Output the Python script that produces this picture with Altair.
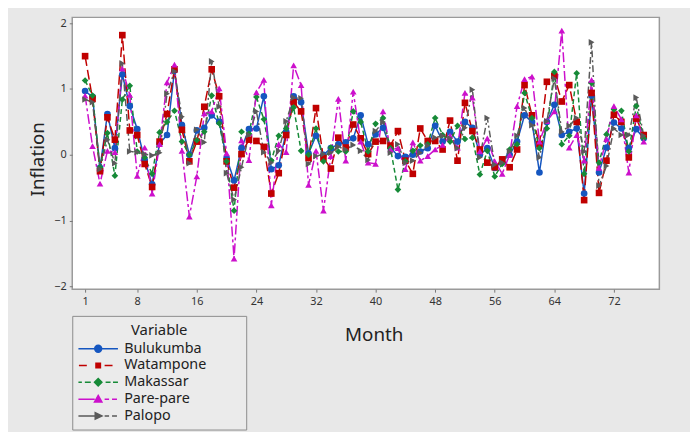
import math
import altair as alt
import pandas as pd

months = list(range(1, 77))

bulukumba = [0.97, 0.88, -0.20, 0.62, 0.10, 1.22, 0.74, 0.39, -0.08, -0.45,
             0.17, 0.30, 1.28, 0.45, 0.00, 0.37, 0.41, 0.60, 0.50, -0.05,
             -0.39, 0.10, 0.39, 0.40, 0.89, -0.22, -0.16, 0.35, 0.89, 0.80,
             0.02, 0.29, 0.00, 0.10, 0.16, 0.19, 0.25, 0.60, 0.16, 0.31,
             0.41, 0.11, -0.02, -0.03, 0.00, 0.05, 0.10, 0.44, 0.20, 0.35,
             0.20, 0.50, 0.41, 0.00, 0.10, -0.20, -0.10, 0.00, 0.20, 0.60,
             0.50, -0.27, 0.50, 0.76, 0.30, 0.35, 0.40, -0.59, 0.90, -0.27,
             0.11, 0.49, 0.40, 0.10, 0.39, 0.25]
watampone = [1.50, 0.85, -0.25, 0.57, 0.23, 1.82, 0.37, 0.30, -0.14, -0.49,
             0.20, 0.62, 1.30, 0.38, -0.10, 0.20, 0.73, 1.30, 0.89, -0.10,
             -0.50, 0.01, 0.23, 0.21, 0.12, -0.59, -0.28, 0.30, 0.80, 0.66,
             -0.05, 0.71, -0.05, -0.21, 0.26, 0.11, 0.46, 0.25, 0.01, 0.20,
             0.21, 0.14, 0.36, -0.09, -0.29, 0.40, 0.21, 0.21, 0.08, 0.52,
             -0.09, 0.79, 0.36, 0.08, -0.12, -0.19, -0.07, -0.19, 0.08, 1.06,
             0.60, 0.16, 1.11, 1.20, 0.81, 1.06, 0.50, -0.69, 0.94, -0.58,
             -0.09, 0.61, 0.50, -0.04, 0.55, 0.30]
makassar = [1.13, 0.90, -0.19, 0.33, -0.32, 0.84, 1.05, 0.05, -0.04, -0.29,
            0.34, 0.50, 0.67, 0.20, 0.00, 0.22, 0.35, 0.90, 0.48, -0.10,
            -0.85, 0.35, 0.32, 0.88, 0.54, -0.09, 0.29, 0.40, 0.72, 0.06,
            0.00, 0.40, -0.10, 0.11, 0.05, 0.05, 0.66, 0.50, 0.05, 0.47,
            0.56, 0.10, -0.53, -0.10, 0.06, 0.14, 0.16, 0.56, 0.30, 0.20,
            0.44, 0.24, 0.26, -0.30, 0.06, -0.33, -0.14, 0.08, 0.16, 0.94,
            0.56, 0.10, 0.40, 1.26, 0.16, 0.29, 1.24, -0.29, 1.09, -0.12,
            0.31, 0.69, 0.67, 0.05, 0.74, 0.25]
parepare = [0.90, 0.13, -0.44, 0.06, 0.04, 1.31, 0.91, -0.32, 0.11, -0.59,
            0.16, 1.10, 1.37, 0.06, -0.94, -0.33, 0.63, 0.66, 1.01, 0.02,
            -1.58, 0.22, -0.08, 0.95, 1.14, -0.77, 0.16, 0.04, 1.36, 1.06,
            -0.46, 0.06, -0.85, -0.02, 0.85, -0.09, 0.96, 0.20, -0.12, -0.14,
            0.66, 0.08, 0.10, -0.22, 0.19, -0.09, -0.02, 0.08, 0.15, 0.29,
            0.11, 0.94, 0.87, 0.05, 0.25, -0.10, -0.29, 0.00, 0.74, 1.15,
            1.19, 0.20, 0.51, 0.66, 1.89, 0.11, 0.30, -0.09, 1.14, -0.20,
            0.24, 0.74, 0.54, -0.27, 0.60, 0.20]
palopo = [0.84, 0.80, -0.22, 0.23, -0.13, 1.39, 0.05, 0.04, 0.01, -0.01,
          0.03, 0.93, 1.27, 0.58, -0.13, 0.38, 0.19, 1.42, 0.73, -0.28,
          -0.68, -0.19, 0.30, 0.66, 0.04, -0.12, 0.06, 0.51, 0.87, 0.86,
          -0.14, -0.02, 0.01, 0.03, 0.12, 0.08, 0.15, 0.06, -0.08, 0.36,
          0.50, 0.03, 0.16, -0.12, -0.09, 0.03, 0.14, 0.26, 0.29, 0.25,
          0.10, 0.41, 0.99, -0.04, 0.56, -0.15, -0.12, 0.05, 0.29, 0.71,
          0.45, -0.04, 0.51, 1.16, 0.35, 0.44, 0.56, 0.05, 1.71, -0.47,
          -0.17, 0.40, 0.30, 0.30, 0.87, 0.29]

series_names = ["Bulukumba", "Watampone", "Makassar", "Pare-pare", "Palopo"]
series_values = [bulukumba, watampone, makassar, parepare, palopo]
x_tick_labels = [1, 8, 16, 24, 32, 40, 48, 56, 64, 72]
y_tick_labels = [-2, -1, 0, 1, 2]

colors = ["#1556c0", "#c00000", "#168a37", "#cc10cc", "#5a5a5a"]
dashes = [[1, 0], [10, 4], [5, 3], [10, 3, 3, 3], [7, 3, 2, 3]]
shapes = ["circle", "square", "diamond", "triangle-up", "triangle-right"]

rows = []
for si, (name, vals) in enumerate(zip(series_names, series_values)):
    for m, v in zip(months, vals):
        rows.append({"month": m, "value": v, "series": name, "idx": si})
df = pd.DataFrame(rows)


# legend symbols: line + marker drawn as one custom path
def poly(pts):
    return "M" + "L".join(f"{x:.2f},{y:.2f}" for x, y in pts) + "Z"


def segs(pairs):
    return "".join(f"M{a},0L{b},0" for a, b in pairs)


circle = poly([(0.7 * math.cos(k * math.pi / 8), 0.7 * math.sin(k * math.pi / 8)) for k in range(16)])
square = poly([(-0.45, -0.45), (0.45, -0.45), (0.45, 0.45), (-0.45, 0.45)])
diamond = poly([(0, -0.75), (0.75, 0), (0, 0.75), (-0.75, 0)])
tri_up = poly([(0, -0.75), (0.75, 0.6), (-0.75, 0.6)])
tri_right = poly([(0.75, 0), (-0.6, -0.65), (-0.6, 0.65)])

legend_paths = [
    segs([(-4, 4)]) + circle,
    segs([(-3.9, -2.3), (1.3, 2.9)]) + square,
    segs([(-4, -3.3), (-2.7, -1.5), (1.5, 2.5), (3.0, 4.0)]) + diamond,
    segs([(-4, -0.7), (1.3, 2.2), (2.8, 3.8)]) + tri_up,
    segs([(-4, -0.5), (1.3, 2.2), (2.8, 3.8)]) + tri_right,
]

FONT = "Noto Sans"
BLANK = "\u2800" * 3  # blank (non-whitespace) filler widening the legend box

x_enc = alt.X(
    "month:Q",
    scale=alt.Scale(domain=[-0.725, 78.1], nice=False, zero=False),
    axis=alt.Axis(values=x_tick_labels, title="Month", grid=False, domain=False,
                  tickSize=3, tickColor="#777777", labelFontSize=11, labelColor="#333333",
                  labelPadding=3, labelFont=FONT, labelFlush=False,
                  titleFont=FONT, titleFontSize=19, titleFontWeight="normal",
                  titleColor="#222222", titleX=305, titleY=46, titleBaseline="middle",
                  titleAlign="center"),
)
y_enc = alt.Y(
    "value:Q",
    scale=alt.Scale(domain=[-2.045, 2.09], nice=False, zero=False),
    axis=alt.Axis(values=y_tick_labels, title="Inflation", grid=False, domain=False,
                  tickSize=3, tickColor="#777777", labelFontSize=11, labelColor="#333333",
                  labelPadding=3, labelFont=FONT,
                  titleFont=FONT, titleFontSize=19, titleFontWeight="normal",
                  titleColor="#222222", titleX=-35, titleY=143, titleAngle=270,
                  titleBaseline="middle", titleAlign="center"),
)
color_enc = alt.Color("series:N", scale=alt.Scale(domain=series_names, range=colors), legend=None)


def make_legend():
    return alt.Legend(
        orient="none", legendX=0, legendY=302, title="Variable",
        titleFont=FONT, titleFontSize=15, titleFontWeight="normal", titleColor="#222222",
        titleAnchor="middle", titlePadding=4,
        labelFont=FONT, labelFontSize=14.5, labelColor="#222222", labelLimit=400,
        labelExpr=f"datum.label + '{BLANK}'",
        symbolSize=100, symbolOffset=12, labelOffset=19, symbolStrokeWidth=1.5,
        symbolOpacity=1, rowPadding=2, padding=7,
        fillColor="#ebebeb", strokeColor="#8c8c8c",
    )


base = alt.Chart(df)

lines = base.mark_line(strokeWidth=1.5).encode(
    x=x_enc, y=y_enc, color=color_enc,
    strokeDash=alt.StrokeDash("series:N", scale=alt.Scale(domain=series_names, range=dashes), legend=None),
    detail="series:N",
)

points = base.mark_point(filled=True, opacity=1, size=45).encode(
    x=x_enc, y=y_enc, color=color_enc,
    shape=alt.Shape("series:N", scale=alt.Scale(domain=series_names, range=shapes), legend=None),
    order=alt.Order("idx:Q"),
)

# legend-only layer: no rows survive the filter, the scales' explicit domains feed the legend
legend_layer = base.transform_filter("datum.month < 0").mark_point(strokeWidth=1.5).encode(
    x=x_enc, y=y_enc,
    fill=alt.Fill("series:N", scale=alt.Scale(domain=series_names, range=colors), legend=make_legend()),
    stroke=alt.Stroke("series:N", scale=alt.Scale(domain=series_names, range=colors), legend=make_legend()),
    shape=alt.Shape("series:N", scale=alt.Scale(domain=series_names, range=legend_paths), legend=make_legend()),
)

chart = alt.layer(lines, points, legend_layer).resolve_scale(
    shape="independent", fill="independent", stroke="independent"
).properties(
    width=594, height=275,
    autosize=alt.AutoSizeParams(type="none"),
    padding={"left": 65, "top": 7, "right": 31, "bottom": 142},
    background="#e8e8e8",
).configure_view(stroke="#9a9a9a", strokeWidth=1.5, fill="white")

chart.save("out.html", embed_options={"renderer": "svg", "actions": False})
